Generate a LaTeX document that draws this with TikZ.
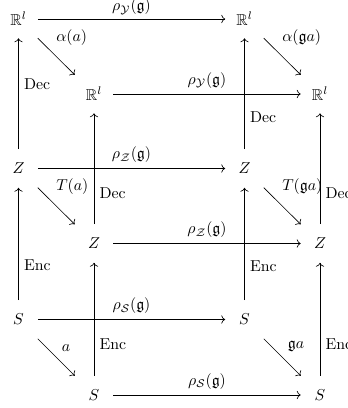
\documentclass[tikz,border=0pt]{standalone}
\usepackage{amsmath}
\usepackage{amssymb}
\usetikzlibrary{arrows.meta}

\begin{document}
\begin{tikzpicture}[x=0.633pt, y=-0.633pt,
  obj/.style={minimum width=24pt, minimum height=24pt, inner sep=0pt},
  map/.style={-{To}, line width=.4pt},
  lbl/.style={inner sep=0.333em}]
\useasboundingbox (0,0) rectangle (348,408);
\def\xa{18.5}\def\xb{94}\def\xc{244.5}\def\xd{320}
\def\ya{19}\def\yb{94}\def\yc{168.5}\def\yd{243.5}\def\ye{319.5}\def\yf{395}

% back face and front face, three levels
\node[obj] (Rbl) at (\xa,\ya) {$\mathbb{R}^l$};
\node[obj] (Rbr) at (\xc,\ya) {$\mathbb{R}^l$};
\node[obj] (Rfl) at (\xb,\yb) {$\mathbb{R}^l$};
\node[obj] (Rfr) at (\xd,\yb) {$\mathbb{R}^l$};
\node[obj] (Zbl) at (\xa,\yc) {$Z$};
\node[obj] (Zbr) at (\xc,\yc) {$Z$};
\node[obj] (Zfl) at (\xb,\yd) {$Z$};
\node[obj] (Zfr) at (\xd,\yd) {$Z$};
\node[obj] (Sbl) at (\xa,\ye) {$S$};
\node[obj] (Sbr) at (\xc,\ye) {$S$};
\node[obj] (Sfl) at (\xb,\yf) {$S$};
\node[obj] (Sfr) at (\xd,\yf) {$S$};

% group action along the rows
\draw[map] (Rbl) -- node[lbl, above, inner sep=2.4pt] (gYb) {$\rho_{\mathcal{Y}}(\mathfrak{g})$} (Rbr);
\draw[map] (Rfl) -- node[lbl, above] (gYf) {$\rho_{\mathcal{Y}}(\mathfrak{g})$} (Rfr);
\draw[map] (Zbl) -- node[lbl, above] (gZb) {$\rho_{\mathcal{Z}}(\mathfrak{g})$} (Zbr);
\draw[map] (Zfl) -- node[lbl, above] (gZf) {$\rho_{\mathcal{Z}}(\mathfrak{g})$} (Zfr);
\draw[map] (Sbl) -- node[lbl, above] (gSb) {$\rho_{\mathcal{S}}(\mathfrak{g})$} (Sbr);
\draw[map] (Sfl) -- node[lbl, above] (gSf) {$\rho_{\mathcal{S}}(\mathfrak{g})$} (Sfr);

% back to front
\draw[map] (Rbl) -- node[lbl, pos=.35, above right] (alA) {$\alpha(a)$} (Rfl);
\draw[map] (Rbr) -- node[lbl, pos=.35, above right] (alB) {$\alpha(\mathfrak{g}a)$} (Rfr);
\draw[map] (Zbl) -- node[lbl, pos=.35, above right] (TA) {$T(a)$} (Zfl);
\draw[map] (Zbr) -- node[lbl, pos=.35, above right] (TB) {$T(\mathfrak{g}a)$} (Zfr);
\draw[map] (Sbl) -- node[lbl, pos=.5, above right] (aA) {$a$} (Sfl);
\draw[map] (Sbr) -- node[lbl, pos=.5, above right] (aB) {$\mathfrak{g}a$} (Sfr);

% encoder and decoder
\draw[map] (Zbl) -- node[lbl, pos=.59, right] (decA) {Dec} (Rbl);
\draw[map] (Zbr) -- node[lbl, pos=.29, right] (decB) {Dec} (Rbr);
\draw[map] (Zfl) -- node[lbl, pos=.28, right] (decC) {Dec} (Rfl);
\draw[map] (Zfr) -- node[lbl, pos=.28, right] (decD) {Dec} (Rfr);
\draw[map] (Sbl) -- node[lbl, pos=.31, right] (encA) {Enc} (Zbl);
\draw[map] (Sbr) -- node[lbl, pos=.30, right] (encB) {Enc} (Zbr);
\draw[map] (Sfl) -- node[lbl, pos=.28, right] (encC) {Enc} (Zfl);
\draw[map] (Sfr) -- node[lbl, pos=.28, right] (encD) {Enc} (Zfr);
\end{tikzpicture}
\end{document}
